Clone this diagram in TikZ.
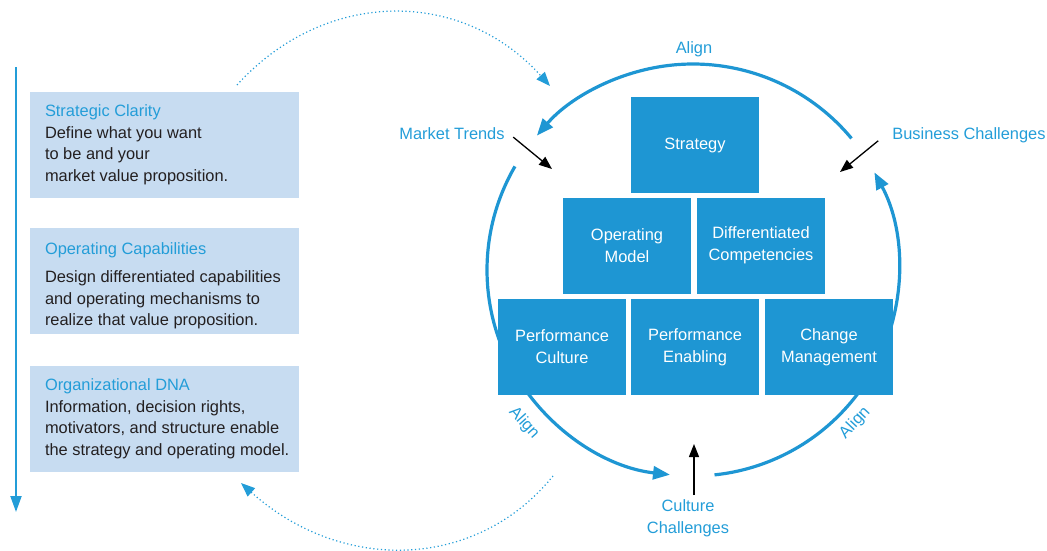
\documentclass[tikz,border=0pt]{standalone}
\usepackage{fontspec}
\setmainfont{Liberation Sans}
\usetikzlibrary{arrows.meta}
\definecolor{blockblue}{RGB}{30,150,211}
\definecolor{labelblue}{RGB}{35,157,216}
\definecolor{panelblue}{RGB}{199,220,241}
\definecolor{bodytext}{RGB}{35,31,32}
\tikzset{
  block/.style={fill=blockblue, text=white, minimum width=128pt, minimum height=96pt,
    inner sep=0pt, align=center, font=\fontsize{16.4}{22}\selectfont},
  panel/.style={fill=panelblue, minimum width=269pt, minimum height=106pt, inner sep=0pt},
  paneltext/.style={anchor=west, align=left, inner sep=0pt, text=bodytext,
    font=\fontsize{16.4}{21.5}\selectfont},
  cue/.style={text=labelblue, align=center, inner sep=0pt, font=\fontsize{16.4}{22}\selectfont},
  alignarc/.style={draw=blockblue, line width=3.2pt, -{Triangle[length=17pt,width=13pt]}},
  pointer/.style={draw=black, line width=1.3pt, -{Triangle[length=13pt,width=10pt]}},
  hint/.style={draw=labelblue, line width=1.2pt, dash pattern=on 1.2pt off 2.6pt,
    -{Triangle[length=14pt,width=11pt]}},
  flow/.style={draw=labelblue, line width=2pt, -{Triangle[length=16pt,width=11pt]}}
}
\begin{document}
\begin{tikzpicture}[x=1pt,y=1pt]
  \useasboundingbox (0,0) rectangle (1047,-550);
  % left side: the three panels
  \draw[flow] (16,-67) coordinate (flow top) -- (16,-512) coordinate (flow tip);
  \node[panel] (clarity) at (164.5,-145) {};
  \node[panel] (capabilities) at (164.5,-281) {};
  \node[panel] (dna) at (164.5,-418.5) {};
  \node[paneltext] (clarity text) at ([xshift=15pt]clarity.west)
    {\textcolor{labelblue}{Strategic Clarity}\\Define what you want\\to be and your\\market value proposition.};
  \node[paneltext] (capabilities text) at ([shift={(15pt,-4.7pt)}]capabilities.west)
    {\textcolor{labelblue}{Operating Capabilities}\\[7pt]Design differentiated capabilities\\and operating mechanisms to\\realize that value proposition.};
  \node[paneltext] (dna text) at ([xshift=15pt]dna.west)
    {\textcolor{labelblue}{Organizational DNA}\\Information, decision rights,\\motivators, and structure enable\\the strategy and operating model.};
  % dotted links to the circle
  \coordinate (hint start) at (237,-85);
  \coordinate (hint end) at (550,-86);
  \coordinate (back start) at (553,-476);
  \coordinate (back end) at (241,-483);
  \draw[hint] (hint start) .. controls (325,12) and (462,12) .. (hint end);
  \draw[hint] (back start) .. controls (476,-571) and (341,-573) .. (back end);
  % the circle of arcs, behind the blocks
  \coordinate (hub) at (693,-270);
  \draw[alignarc] ([shift={(39.7:206pt)}]hub) arc[start angle=39.7, end angle=139.3, radius=206pt];
  \draw[alignarc] ([shift={(149.8:206pt)}]hub) arc[start angle=149.8, end angle=263.6, radius=206pt];
  \draw[alignarc] ([shift={(276:206pt)}]hub) arc[start angle=276, end angle=388.3, radius=206pt];
  % blocks
  \node[block] (strategy) at (695,-145) {Strategy};
  \node[block] (operating) at (627,-245.5) {Operating\\Model};
  \node[block] (competencies) at (761,-245.5) {Differentiated\\Competencies};
  \node[block] (perf culture) at (562,-347) {Performance\\Culture};
  \node[block] (enabling) at (695,-347) {Performance\\Enabling};
  \node[block] (change) at (829,-347) {Change\\Management};
  % labels
  \node[cue, anchor=base] (align top) at (694,-53) {Align};
  \node[cue, rotate=-48] (align left) at (524,-423) {Align};
  \node[cue, rotate=47] (align right) at (855,-423) {Align};
  \node[cue, anchor=base] (trends) at (452,-139) {Market Trends};
  \node[cue, anchor=base] (business) at (969,-139) {Business Challenges};
  \node[cue, anchor=north] (challenges) at (688,-499) {Culture\\Challenges};
  % pressures
  \coordinate (trends tip) at (552,-169);
  \coordinate (business tip) at (840,-172);
  \coordinate (challenges tip) at (694,-444);
  \draw[pointer] ([shift={(8.5pt,-4pt)}]trends.east) -- (trends tip);
  \draw[pointer] ([shift={(-14pt,-6pt)}]business.west) -- (business tip);
  \draw[pointer] ([shift={(6pt,4pt)}]challenges.north) -- (challenges tip);
\end{tikzpicture}
\end{document}
